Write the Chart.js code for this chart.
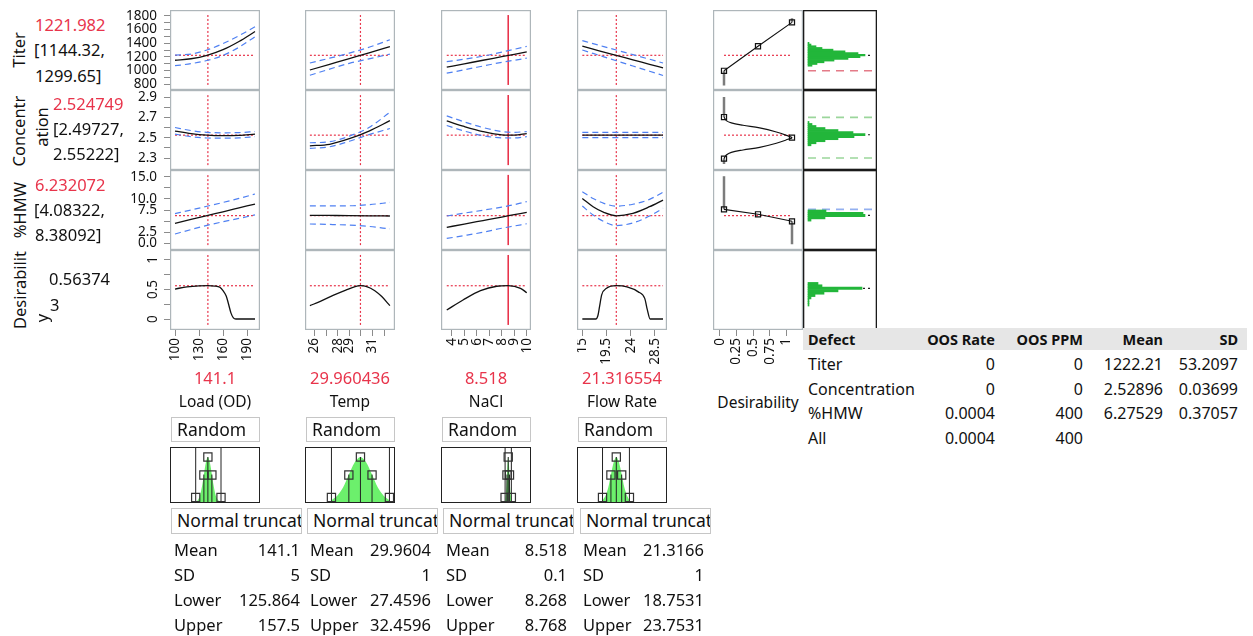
<!DOCTYPE html>
<html>
<head>
<meta charset="utf-8">
<script src="https://cdn.jsdelivr.net/npm/chart.js@4.4.1/dist/chart.umd.min.js"></script>
<style>
body { margin: 0; background: #fff; width: 1253px; height: 636px; position: relative; overflow: hidden; font-family: "Noto Sans", sans-serif; color: #111; }
canvas { position: absolute; }
.t { position: absolute; white-space: nowrap; line-height: 1; font-size: 16.5px; }
.box { position: absolute; border: 1px solid #c6c6c6; box-sizing: border-box; overflow: hidden; white-space: nowrap; font-size: 17.5px; line-height: 23px; padding-left: 5px; }
.hdr { position: absolute; left: 803px; top: 328px; width: 444px; height: 22px; background: #e6e6e6; }
</style>
</head>
<body>
<script>
// ---- factors / responses
var factorNames = ['Load (OD)', 'Temp', 'NaCl', 'Flow Rate'];
var factorText = ['141.1', '29.960436', '8.518', '21.316554'];
var factorValues = [141.1, 29.960436, 8.518, 21.316554];
var responseValues = [1221.982, 2.524749, 6.232072, 0.563743];

// ---- profile traces, Load (OD)
var loadX = [100, 120, 140, 160, 180, 200];
var titerLoad = [1150, 1172, 1222, 1305, 1425, 1570];
var titerLoadHi = [1225, 1240, 1300, 1395, 1510, 1640];
var titerLoadLo = [1070, 1100, 1146, 1220, 1340, 1495];
var concLoad = [2.565, 2.54, 2.525, 2.52, 2.523, 2.535];
var concLoadHi = [2.6, 2.57, 2.552, 2.548, 2.55, 2.56];
var concLoadLo = [2.535, 2.51, 2.497, 2.495, 2.498, 2.51];
var hmwLoad = [4.5, 5.37, 6.24, 7.1, 7.97, 8.84];
var hmwLoadHi = [6.7, 7.5, 8.35, 9.2, 10.1, 11.1];
var hmwLoadLo = [2.1, 3.1, 4.05, 4.85, 5.6, 6.4];
var desLoadX = [100, 115, 130, 141, 150, 156, 160, 164, 167, 170, 173, 176, 200];
var desLoad = [0.508, 0.545, 0.562, 0.564, 0.558, 0.537, 0.48, 0.39, 0.25, 0.1, 0.02, 0, 0];

// ---- Temp
var tempX = [25.6, 27.3, 29.0, 30.7, 32.5];
var titerTemp = [1007, 1091, 1175, 1259, 1348];
var titerTempHi = [1110, 1180, 1255, 1340, 1450];
var titerTempLo = [930, 1020, 1105, 1170, 1240];
var concTemp = [2.42, 2.435, 2.49, 2.565, 2.667];
var concTempHi = [2.45, 2.46, 2.515, 2.6, 2.75];
var concTempLo = [2.395, 2.41, 2.465, 2.53, 2.59];
var hmwTemp = [6.3, 6.27, 6.24, 6.2, 6.15];
var hmwTempHi = [8.45, 8.42, 8.45, 8.7, 9.2];
var hmwTempLo = [4.35, 4.25, 4.1, 3.8, 3.25];
var desTempX = [25.6, 26.5, 27.6, 28.7, 29.5, 29.96, 30.5, 31.2, 31.8, 32.5];
var desTemp = [0.226, 0.3, 0.4, 0.49, 0.55, 0.564, 0.55, 0.48, 0.38, 0.226];

// ---- NaCl
var naclX = [3.6, 5, 6.5, 8, 9, 10];
var titerNacl = [1048, 1097, 1150, 1202, 1237, 1272];
var titerNaclHi = [1130, 1165, 1210, 1270, 1310, 1352];
var titerNaclLo = [960, 1010, 1065, 1120, 1150, 1180];
var concNacl = [2.665, 2.61, 2.56, 2.528, 2.525, 2.54];
var concNaclHi = [2.715, 2.655, 2.6, 2.56, 2.553, 2.56];
var concNaclLo = [2.62, 2.565, 2.52, 2.498, 2.497, 2.51];
var hmwNacl = [3.6, 4.34, 5.13, 5.92, 6.45, 6.98];
var hmwNaclHi = [6.15, 6.8, 7.45, 8.15, 8.7, 9.4];
var hmwNaclLo = [1.1, 1.75, 2.5, 3.4, 3.9, 4.4];
var desNaclX = [3.6, 4.9, 6.3, 7.6, 8.5, 9.5, 10];
var desNacl = [0.153, 0.322, 0.48, 0.555, 0.564, 0.52, 0.446];

// ---- Flow Rate
var flowX = [15, 17, 19, 21.3, 24.4, 27.5, 30];
var titerFlow = [1355, 1313, 1270, 1222, 1156, 1091, 1038];
var titerFlowHi = [1437, 1393, 1350, 1300, 1232, 1165, 1110];
var titerFlowLo = [1300, 1250, 1200, 1143, 1066, 989, 927];
var concFlow = [2.526, 2.526, 2.526, 2.526, 2.526, 2.526, 2.526];
var concFlowHi = [2.553, 2.553, 2.553, 2.553, 2.553, 2.553, 2.553];
var concFlowLo = [2.5, 2.5, 2.5, 2.5, 2.5, 2.5, 2.5];
var hmwFlow = [10.1, 8.24, 6.97, 6.2, 6.75, 8.24, 9.74];
var hmwFlowHi = [11.6, 10.1, 9.0, 8.38, 8.8, 9.9, 11.5];
var hmwFlowLo = [8.4, 6.37, 4.9, 4.0, 4.6, 6.14, 7.9];
var desFlowX = [15, 17.5, 17.9, 18.2, 18.6, 19.5, 21.3, 23.3, 25.4, 26.6, 27.1, 27.6, 30];
var desFlow = [0, 0, 0.06, 0.21, 0.41, 0.52, 0.564, 0.545, 0.46, 0.35, 0.15, 0, 0];

// ---- desirability functions
var titerDesX = [0.065, 0.575, 1.085];
var titerDesY = [995, 1355, 1705];
var concDesCurveX = [0.065, 0.1, 0.175, 0.35, 0.6, 0.85, 1.025, 1.085, 1.025, 0.85, 0.6, 0.35, 0.175, 0.1, 0.065];
var concDesCurveY = [2.294, 2.33, 2.356, 2.379, 2.405, 2.445, 2.484, 2.5, 2.517, 2.556, 2.596, 2.622, 2.645, 2.668, 2.703];
var concDesX = [0.065, 1.085, 0.065];
var concDesY = [2.294, 2.5, 2.703];
var hmwDesX = [0.065, 0.575, 1.085];
var hmwDesY = [7.65, 6.53, 4.95];
var titerDesExt = [[0.065, 995, 780], [1.085, 1705, 1765]];
var concDesExt = [[0.065, 2.703, 2.9], [0.065, 2.294, 2.24]];
var hmwDesExt = [[0.065, 7.65, 15.1], [1.085, 4.95, -0.2]];

// ---- simulated histograms
var titerBins = [1075, 1100, 1125, 1150, 1175, 1200, 1225, 1250, 1275, 1300, 1325, 1350, 1375, 1400];
var titerCounts = [4, 9, 16, 26, 40, 52, 57, 50, 37, 25, 14, 8, 3, 1];
var concBins = [2.43, 2.45, 2.47, 2.49, 2.51, 2.53, 2.55, 2.57, 2.59, 2.61, 2.63, 2.65];
var concCounts = [3, 8, 17, 30, 46, 57, 45, 30, 17, 8, 4, 1];
var hmwBins = [5.25, 5.75, 6.25, 6.75, 7.25];
var hmwCounts = [3, 17, 57, 55, 18];
var desBins = [0.24, 0.28, 0.32, 0.36, 0.40, 0.44, 0.48, 0.52, 0.56, 0.60];
var desCounts = [1, 1, 1, 3, 7, 16, 30, 54, 14, 10];
var simMeans = [1222.21, 2.52896, 6.27529, 0.52];
var titerSpec = [995];
var concSpec = [2.3, 2.7];
var hmwSpec = [7.65];

// ---- factor distributions
var distMean = [141.1, 29.9604, 8.518, 21.3166];
var distSD = [5, 1, 0.1, 1];
var distLower = [125.864, 27.4596, 8.268, 18.7531];
var distUpper = [157.5, 32.4596, 8.768, 23.7531];
var loadDensX = [125.9, 128, 131, 134, 136.1, 138.6, 141.1, 143.6, 146.1, 148.2, 151, 154, 157.5];
var loadDensY = [0.01, 0.03, 0.13, 0.37, 0.61, 0.88, 1, 0.88, 0.61, 0.37, 0.14, 0.04, 0.005];
var tempDensX = [27.46, 27.96, 28.46, 28.96, 29.46, 29.96, 30.46, 30.96, 31.46, 31.96, 32.46];
var tempDensY = [0.04, 0.14, 0.32, 0.61, 0.88, 1, 0.88, 0.61, 0.32, 0.14, 0.04];
var naclDensX = [8.268, 8.368, 8.418, 8.468, 8.518, 8.568, 8.618, 8.668, 8.768];
var naclDensY = [0.04, 0.32, 0.61, 0.88, 1, 0.88, 0.61, 0.32, 0.04];
var flowDensX = [18.75, 19.32, 19.82, 20.32, 20.82, 21.32, 21.82, 22.32, 22.82, 23.32, 23.75];
var flowDensY = [0.04, 0.14, 0.32, 0.61, 0.88, 1, 0.88, 0.61, 0.32, 0.14, 0.04];

// ---- tables
var statNames = ['Mean', 'SD', 'Lower', 'Upper'];
var loadStats = ['141.1', '5', '125.864', '157.5'];
var tempStats = ['29.9604', '1', '27.4596', '32.4596'];
var naclStats = ['8.518', '0.1', '8.268', '8.768'];
var flowStats = ['21.3166', '1', '18.7531', '23.7531'];
var defectNames = ['Titer', 'Concentration', '%HMW', 'All'];
var oosRate = ['0', '0', '0.0004', '0.0004'];
var oosPpm = ['0', '0', '400', '400'];
var defectMean = ['1222.21', '2.52896', '6.27529', ''];
var defectSD = ['53.2097', '0.03699', '0.37057', ''];

// ---- tick labels
var xTickVals = [[100, 130, 160, 190], [26, 27, 28, 29, 30, 31, 32], [4, 5, 6, 7, 8, 9, 10], [15, 19.5, 24, 28.5]];
var xTickText = [['100', '130', '160', '190'], ['26', '', '28', '29', '', '31', ''], ['4', '5', '6', '7', '8', '9', '10'], ['15', '19.5', '24', '28.5']];
var desTickVals = [0, 0.25, 0.5, 0.75, 1];
var desTickText = ['0', '0.25', '0.5', '0.75', '1'];
var yTickVals = [[800, 900, 1000, 1100, 1200, 1300, 1400, 1500, 1600, 1700, 1800], [2.3, 2.4, 2.5, 2.6, 2.7, 2.8, 2.9], [0, 2.5, 5, 7.5, 10, 12.5, 15], [0, 0.25, 0.5, 0.75, 1]];
var yTickText = [['800', '', '1000', '', '1200', '', '1400', '', '1600', '', '1800'], ['2.3', '', '2.5', '', '2.7', '', '2.9'], ['0.0', '2.5', '', '7.5', '10.0', '', '15.0'], ['0', '', '0.5', '', '1']];

// ---- layout
var colLeft = [170, 305, 441, 577];
var rowTop = [10, 90, 170, 250];
var cellW = 90, cellH = 80, yAxisW = 62, xAxisH = 42;
var xRange = [[93.75, 206.25], [25.18, 32.94], [3.14, 10.34], [14.01, 30.74]];
var yRange = [[714, 1886], [2.182, 2.969], [-1.5, 16.5], [-0.186, 1.169]];
var vSpan = [[788, 1812], [2.23, 2.92], [-0.4, 15.4], [-0.1, 1.085]];
var RED = '#e8344b';
var FONT = '"Noto Sans", sans-serif';

Chart.defaults.font.family = FONT;
Chart.defaults.color = '#111';

Chart.register({
    id: 'frame',
    beforeDatasetsDraw: function (chart, args, opts) {
        var a = chart.chartArea, ctx = chart.ctx, w = opts.width || 1.2;
        ctx.save();
        ctx.strokeStyle = opts.color || '#aeb6ba';
        ctx.lineWidth = w;
        ctx.strokeRect(a.left + w / 2, a.top + w / 2, a.right - a.left - w, a.bottom - a.top - w);
        ctx.restore();
    }
});

Chart.register({
    id: 'rotLabels',
    afterDraw: function (chart, args, opts) {
        if (!opts.values) return;
        var y = chart.scales.y, ctx = chart.ctx;
        ctx.save();
        ctx.font = '13.5px ' + FONT;
        ctx.fillStyle = '#111';
        ctx.textAlign = 'center';
        ctx.textBaseline = 'middle';
        for (var i = 0; i < opts.values.length; i++) {
            ctx.save();
            ctx.translate(opts.x, y.getPixelForValue(opts.values[i]));
            ctx.rotate(-Math.PI / 2);
            ctx.fillText(opts.text[i], 0, 0);
            ctx.restore();
        }
        ctx.restore();
    }
});

function mk(left, top, w, h, config) {
    var cv = document.createElement('canvas');
    cv.width = w; cv.height = h;
    cv.style.left = left + 'px'; cv.style.top = top + 'px';
    document.body.appendChild(cv);
    var o = config.options || {};
    o.responsive = false; o.animation = false; o.devicePixelRatio = 1; o.events = [];
    o.layout = { padding: 0, autoPadding: false };
    o.plugins = Object.assign({ legend: { display: false }, tooltip: { enabled: false } }, o.plugins || {});
    config.options = o;
    return new Chart(cv, config);
}

function scaleCfg(range, show, vals, labels, isX) {
    var s = {
        type: 'linear', min: range[0], max: range[1], display: show, offset: false,
        grid: { drawOnChartArea: false, drawTicks: true, tickLength: 6, color: '#8c8c8c' },
        border: { display: false },
        ticks: {
            autoSkip: false, font: { size: 13.5 }, color: '#111', padding: isX ? 2 : 7,
            callback: function (v, i) { return labels ? labels[i] : ''; }
        }
    };
    if (vals) s.afterBuildTicks = function (sc) { sc.ticks = vals.map(function (v) { return { value: v }; }); };
    if (isX) {
        s.ticks.minRotation = 90; s.ticks.maxRotation = 90;
    }
    if (show) {
        s.afterFit = function (sc) {
            if (isX) sc.height = xAxisH; else sc.width = yAxisW;
            sc.paddingTop = 0; sc.paddingBottom = 0; sc.paddingLeft = 0; sc.paddingRight = 0;
        };
    }
    return s;
}

function curve(xs, ys, style) {
    return Object.assign({
        data: xs.map(function (x, i) { return { x: x, y: ys[i] }; }),
        pointRadius: 0, fill: false, borderWidth: 1.2
    }, style);
}

var BLACK = { borderColor: '#111', borderWidth: 1.3, cubicInterpolationMode: 'monotone' };
var DASH = { borderColor: '#4f80f2', borderWidth: 1.2, borderDash: [6, 4], cubicInterpolationMode: 'monotone' };
var DOT = { borderColor: RED, borderWidth: 1.2, borderDash: [2, 2] };
var SOLID = { borderColor: RED, borderWidth: 1.6 };
var GRAYEXT = { borderColor: '#7c7c7c', borderWidth: 2.5 };
var MARK = { showLine: false, pointStyle: 'rect', pointRadius: 3.6, pointBorderColor: '#111', pointBackgroundColor: 'rgba(255,255,255,0)', pointBorderWidth: 1.2 };
var THIN = { borderColor: '#222', borderWidth: 1 };

var factorX = [loadX, tempX, naclX, flowX];
var profiles = [
    [[titerLoad, titerLoadHi, titerLoadLo], [concLoad, concLoadHi, concLoadLo], [hmwLoad, hmwLoadHi, hmwLoadLo]],
    [[titerTemp, titerTempHi, titerTempLo], [concTemp, concTempHi, concTempLo], [hmwTemp, hmwTempHi, hmwTempLo]],
    [[titerNacl, titerNaclHi, titerNaclLo], [concNacl, concNaclHi, concNaclLo], [hmwNacl, hmwNaclHi, hmwNaclLo]],
    [[titerFlow, titerFlowHi, titerFlowLo], [concFlow, concFlowHi, concFlowLo], [hmwFlow, hmwFlowHi, hmwFlowLo]]
];
var desFactorX = [desLoadX, desTempX, desNaclX, desFlowX];
var desFactorY = [desLoad, desTemp, desNacl, desFlow];

// profiler grid
for (var r = 0; r < 4; r++) {
    for (var c = 0; c < 4; c++) {
        var xs = factorX[c];
        var ds = [];
        if (r < 3) {
            var p = profiles[c][r];
            ds.push(curve(xs, p[0], BLACK), curve(xs, p[1], DASH), curve(xs, p[2], DASH));
        } else {
            ds.push(curve(desFactorX[c], desFactorY[c], BLACK));
        }
        ds.push(curve([xs[0], xs[xs.length - 1]], [responseValues[r], responseValues[r]], DOT));
        ds.push(curve([factorValues[c], factorValues[c]], vSpan[r], c === 2 ? SOLID : DOT));
        var left = colLeft[c] - (c === 0 ? yAxisW : 0);
        var w = cellW + (c === 0 ? yAxisW : 0);
        var h = cellH + (r === 3 ? xAxisH : 0);
        mk(left, rowTop[r], w, h, {
            type: 'line',
            data: { datasets: ds },
            options: {
                scales: {
                    x: scaleCfg(xRange[c], r === 3, xTickVals[c], xTickText[c], true),
                    y: scaleCfg(yRange[r], c === 0, yTickVals[r], r === 3 ? null : yTickText[r], false)
                },
                plugins: { rotLabels: (c === 0 && r === 3) ? { values: [0, 0.5, 1], text: ['0', '0.5', '1'], x: yAxisW - 17 } : {} }
            }
        });
    }
}

// desirability column
var desTraces = [
    [curve(titerDesX, titerDesY, { borderColor: '#111', borderWidth: 1.1 }), curve(titerDesX, titerDesY, MARK)],
    [curve(concDesCurveX, concDesCurveY, { borderColor: '#111', borderWidth: 1.2, tension: 0.35 }), curve(concDesX, concDesY, MARK)],
    [curve(hmwDesX, hmwDesY, { borderColor: '#111', borderWidth: 1.1 }), curve(hmwDesX, hmwDesY, MARK)],
    []
];
var desExt = [titerDesExt, concDesExt, hmwDesExt, []];
for (var r = 0; r < 4; r++) {
    var ds = desTraces[r].slice();
    desExt[r].forEach(function (e) { ds.push(curve([e[0], e[0]], [e[1], e[2]], GRAYEXT)); });
    if (r < 3) ds.push(curve([0.065, 1.085], [responseValues[r], responseValues[r]], DOT));
    mk(713, rowTop[r], cellW, cellH + (r === 3 ? xAxisH : 0), {
        type: 'line',
        data: { datasets: ds },
        options: {
            scales: {
                x: scaleCfg([-0.1, 1.25], r === 3, desTickVals, desTickText, true),
                y: scaleCfg(yRange[r], false, null, null, false)
            }
        }
    });
}

// simulated histograms
var histBins = [titerBins, concBins, hmwBins, desBins];
var histCounts = [titerCounts, concCounts, hmwCounts, desCounts];
var histSpec = [titerSpec, concSpec, hmwSpec, []];
var specColors = ['#e47b88', '#9bd69b', '#93b0f0', '#999'];
for (var r = 0; r < 4; r++) {
    var ds = [{
        type: 'bar',
        data: histBins[r].map(function (b, i) { return { x: histCounts[r][i], y: b }; }),
        backgroundColor: '#22b63a', borderWidth: 0, categoryPercentage: 1, barPercentage: 1
    }];
    ds.push(Object.assign(curve([0, 62], [simMeans[r], simMeans[r]], { borderColor: '#222', borderWidth: 1.2, borderDash: [2, 3] }), { type: 'line' }));
    histSpec[r].forEach(function (v) {
        ds.push(Object.assign(curve([0, 64], [v, v], { borderColor: specColors[r], borderWidth: 1.6, borderDash: [8, 6] }), { type: 'line' }));
    });
    mk(803, rowTop[r], 74, cellH, {
        type: 'bar',
        data: { datasets: ds },
        options: {
            indexAxis: 'y',
            scales: {
                x: { type: 'linear', min: -5, max: 69, display: false, offset: false },
                y: { type: 'linear', min: yRange[r][0], max: yRange[r][1], display: false, offset: false }
            },
            plugins: { frame: { color: '#1a1a1a', width: 1.3 } }
        }
    });
}

// factor distributions
var densX = [loadDensX, tempDensX, naclDensX, flowDensX];
var densY = [loadDensY, tempDensY, naclDensY, flowDensY];
for (var c = 0; c < 4; c++) {
    var m = distMean[c], sd = distSD[c], lo = distLower[c], hi = distUpper[c];
    var ds = [
        curve([m, m - sd, m + sd, lo, hi], [1, 0.6, 0.6, 0.1, 0.1], Object.assign({}, MARK, { pointRadius: 5.8, pointBorderColor: '#333' })),
        curve([m, m], [0, 1], THIN),
        curve([m - sd, m - sd], [0, 0.61], THIN),
        curve([m + sd, m + sd], [0, 0.61], THIN),
        curve([lo, lo], [-0.05, 1.25], THIN),
        curve([hi, hi], [-0.05, 1.25], THIN),
        curve(densX[c], densY[c], { fill: 'origin', backgroundColor: '#6cf06c', borderWidth: 0, tension: 0.3 })
    ];
    mk(colLeft[c], 447, cellW, 56, {
        type: 'line',
        data: { datasets: ds },
        options: {
            scales: {
                x: { type: 'linear', min: xRange[c][0], max: xRange[c][1], display: false },
                y: { type: 'linear', min: -0.022, max: 1.222, display: false }
            },
            plugins: { frame: { color: '#222', width: 1 } }
        }
    });
}

// ---- text
function txt(x, y, s, o) {
    o = o || {};
    var d = document.createElement('div');
    d.className = 't';
    d.textContent = s;
    d.style.left = x + 'px';
    d.style.top = y + 'px';
    var tf = 'translateY(-50%)';
    if (o.align === 'center') tf = 'translate(-50%,-50%)';
    if (o.align === 'right') tf = 'translate(-100%,-50%)';
    if (o.rot) tf = 'translate(-50%,-50%) rotate(-90deg)';
    d.style.transform = tf;
    if (o.color) d.style.color = o.color;
    if (o.size) d.style.fontSize = o.size + 'px';
    if (o.bold) d.style.fontWeight = 'bold';
    document.body.appendChild(d);
}

txt(19, 50, 'Titer', { rot: true });
txt(35, 25, '1221.982', { color: RED });
txt(34, 50, '[1144.32,');
txt(35, 76, '1299.65]');
txt(19, 131, 'Concentr', { rot: true });
txt(42, 127, 'ation', { rot: true });
txt(53, 104, '2.524749', { color: RED });
txt(53, 129, '[2.49727,');
txt(53, 154, '2.55222]');
txt(20, 210, '%HMW', { rot: true });
txt(35, 185, '6.232072', { color: RED });
txt(34, 210, '[4.08322,');
txt(35, 235, '8.38092]');
txt(20, 290, 'Desirabilit', { rot: true });
txt(42, 318, 'y', { rot: true });
txt(49, 279, '0.56374');
txt(50, 305, '3');

var allStats = [loadStats, tempStats, naclStats, flowStats];
var truncLeft = [171, 307, 443, 580];
var statLeft = [174, 310, 446, 583];
var statRight = [300, 431, 567, 704];
for (var c = 0; c < 4; c++) {
    var cx = colLeft[c] + cellW / 2;
    txt(cx, 378, factorText[c], { align: 'center', color: RED });
    txt(cx, 402, factorNames[c], { align: 'center', size: 15.5 });
    var b = document.createElement('div');
    b.className = 'box';
    b.style.left = (colLeft[c] + 1) + 'px'; b.style.top = '417px';
    b.style.width = '89px'; b.style.height = '25px';
    b.textContent = 'Random';
    document.body.appendChild(b);
    var nb = document.createElement('div');
    nb.className = 'box';
    nb.style.left = truncLeft[c] + 'px'; nb.style.top = '508px';
    nb.style.width = '131px'; nb.style.height = '26px';
    nb.textContent = 'Normal truncated';
    document.body.appendChild(nb);
    for (var k = 0; k < 4; k++) {
        txt(statLeft[c], 550 + k * 25, statNames[k]);
        txt(statRight[c], 550 + k * 25, allStats[c][k], { align: 'right' });
    }
}
txt(758, 403, 'Desirability', { align: 'center', size: 15.5 });

// defect table
var hdr = document.createElement('div');
hdr.className = 'hdr';
document.body.appendChild(hdr);
txt(808, 339, 'Defect', { bold: true, size: 14.5 });
txt(995, 339, 'OOS Rate', { bold: true, size: 14.5, align: 'right' });
txt(1083, 339, 'OOS PPM', { bold: true, size: 14.5, align: 'right' });
txt(1163, 339, 'Mean', { bold: true, size: 14.5, align: 'right' });
txt(1238, 339, 'SD', { bold: true, size: 14.5, align: 'right' });
for (var i = 0; i < defectNames.length; i++) {
    var y = 364 + i * 24.7;
    txt(808, y, defectNames[i], { size: 16 });
    txt(995, y, oosRate[i], { size: 16, align: 'right' });
    txt(1083, y, oosPpm[i], { size: 16, align: 'right' });
    txt(1163, y, defectMean[i], { size: 16, align: 'right' });
    txt(1238, y, defectSD[i], { size: 16, align: 'right' });
}
</script>
</body>
</html>
